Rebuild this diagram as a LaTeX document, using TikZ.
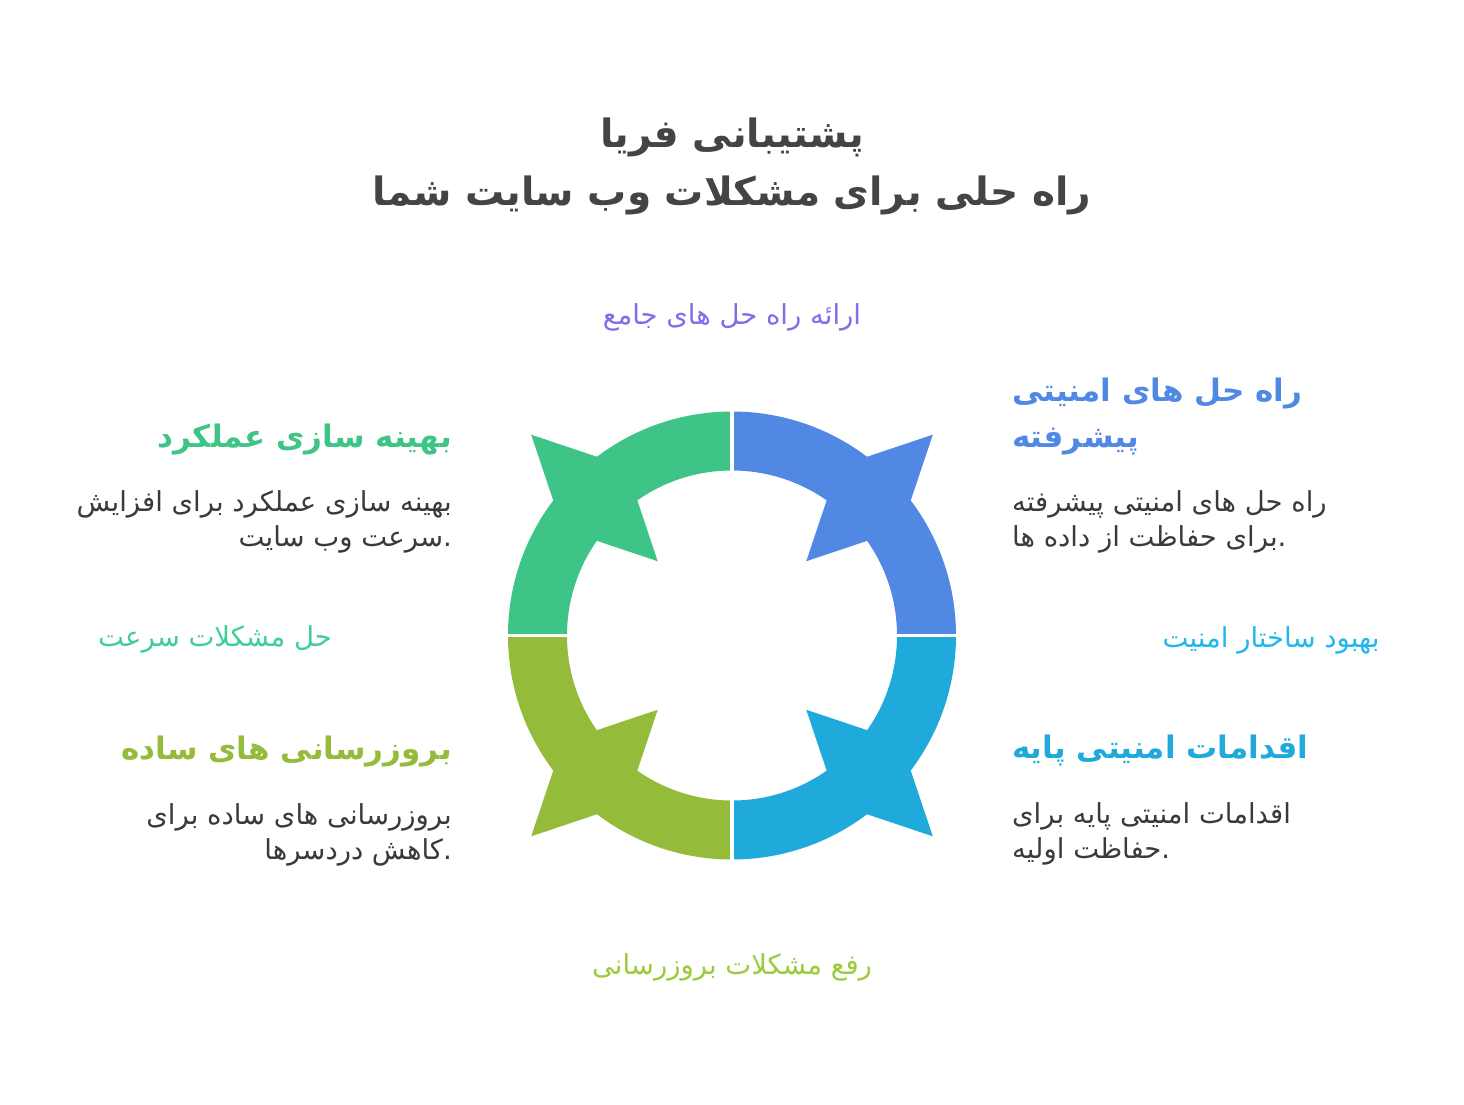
\documentclass[tikz,border=0pt]{standalone}
\usepackage{fontspec}
\newfontfamily\arabicfont[Script=Arabic]{DejaVu Sans}
\TeXXeTstate=1
\definecolor{GreenQ}{HTML}{3EC486}
\definecolor{BlueQ}{HTML}{5088E4}
\definecolor{CyanQ}{HTML}{1FAADB}
\definecolor{OliveQ}{HTML}{94BC3A}
\definecolor{TitleGray}{HTML}{444444}
\definecolor{DescGray}{HTML}{3A3A3A}
\definecolor{TagPurple}{HTML}{7C6FE8}
\definecolor{TagGreen}{HTML}{3ECF96}
\definecolor{TagCyan}{HTML}{1FB8EE}
\definecolor{TagOlive}{HTML}{9CCB3A}

\begin{document}
\begin{tikzpicture}[x=1pt,y=1pt,
  title/.style={inner sep=0,align=center,text=TitleGray,font=\arabicfont\bfseries\fontsize{39}{58}\selectfont},
  heading/.style={inner sep=0,font=\arabicfont\bfseries\fontsize{31}{46}\selectfont},
  desc/.style={inner sep=0,text=DescGray,font=\arabicfont\fontsize{27.5}{35}\selectfont},
  tag/.style={inner sep=0,font=\arabicfont\fontsize{27.5}{30}\selectfont}]
\def\rout{224}
\def\rin{165}
\useasboundingbox (-732,-468.5) rectangle (732,635.5);
% ring, one quarter at a time
\fill[GreenQ] (90:\rout) arc[start angle=90,end angle=180,radius=\rout] -- (180:\rin) arc[start angle=180,end angle=90,radius=\rin] -- cycle;
\fill[GreenQ] (135:284) -- (147.9:199.5) -- (135:105) -- (122.1:199.5) -- cycle;
\fill[BlueQ] (0:\rout) arc[start angle=0,end angle=90,radius=\rout] -- (90:\rin) arc[start angle=90,end angle=0,radius=\rin] -- cycle;
\fill[BlueQ] (45:284) -- (57.9:199.5) -- (45:105) -- (32.1:199.5) -- cycle;
\fill[CyanQ] (-90:\rout) arc[start angle=-90,end angle=0,radius=\rout] -- (0:\rin) arc[start angle=0,end angle=-90,radius=\rin] -- cycle;
\fill[CyanQ] (-45:284) -- (-32.1:199.5) -- (-45:105) -- (-57.9:199.5) -- cycle;
\fill[OliveQ] (180:\rout) arc[start angle=180,end angle=270,radius=\rout] -- (270:\rin) arc[start angle=270,end angle=180,radius=\rin] -- cycle;
\fill[OliveQ] (-135:284) -- (-122.1:199.5) -- (-135:105) -- (-147.9:199.5) -- cycle;
\draw[white,line width=3] (-230,0) -- (230,0);
\draw[white,line width=3] (0,-230) -- (0,230);

% title and the four tags round the ring
\node[title] (ttl) at (0,469) {\beginR پشتیبانی فریا\endR\\ \beginR راه حلی برای مشکلات وب سایت شما\endR};
\node[tag,text=TagPurple] (tagtop) at (0,318) {\beginR ارائه راه حل های جامع\endR};
\node[tag,text=TagGreen] (tagleft) at (-517,-4) {\beginR حل مشکلات سرعت\endR};
\node[tag,text=TagCyan] (tagright) at (539,-5) {\beginR بهبود ساختار امنیت\endR};
\node[tag,text=TagOlive] (tagbot) at (0,-331.5) {\beginR رفع مشکلات بروزرسانی\endR};

% right side
\node[heading,text=BlueQ,anchor=west,align=left] (secH) at (280,219) {\beginR راه حل های امنیتی\endR\\ \beginR پیشرفته\endR};
\node[desc,anchor=west,align=left] (secD) at (280,114) {\beginR راه حل های امنیتی پیشرفته\endR\\ \beginR برای حفاظت از داده ها\endR.};
\node[heading,text=CyanQ,anchor=west,align=left] (baseH) at (280,-115) {\beginR اقدامات امنیتی پایه\endR};
\node[desc,anchor=west,align=left] (baseD) at (280,-198) {\beginR اقدامات امنیتی پایه برای\endR\\ \beginR حفاظت اولیه\endR.};

% left side
\node[heading,text=GreenQ,anchor=east,align=right] (perfH) at (-280,196) {\beginR بهینه سازی عملکرد\endR};
\node[desc,anchor=east,align=right] (perfD) at (-280,114) {\beginR بهینه سازی عملکرد برای افزایش\endR\\ \beginR سرعت وب سایت\endR.};
\node[heading,text=OliveQ,anchor=east,align=right] (updH) at (-280,-116) {\beginR بروزرسانی های ساده\endR};
\node[desc,anchor=east,align=right] (updD) at (-280,-199) {\beginR بروزرسانی های ساده برای\endR\\ \beginR کاهش دردسرها\endR.};
\end{tikzpicture}
\end{document}
